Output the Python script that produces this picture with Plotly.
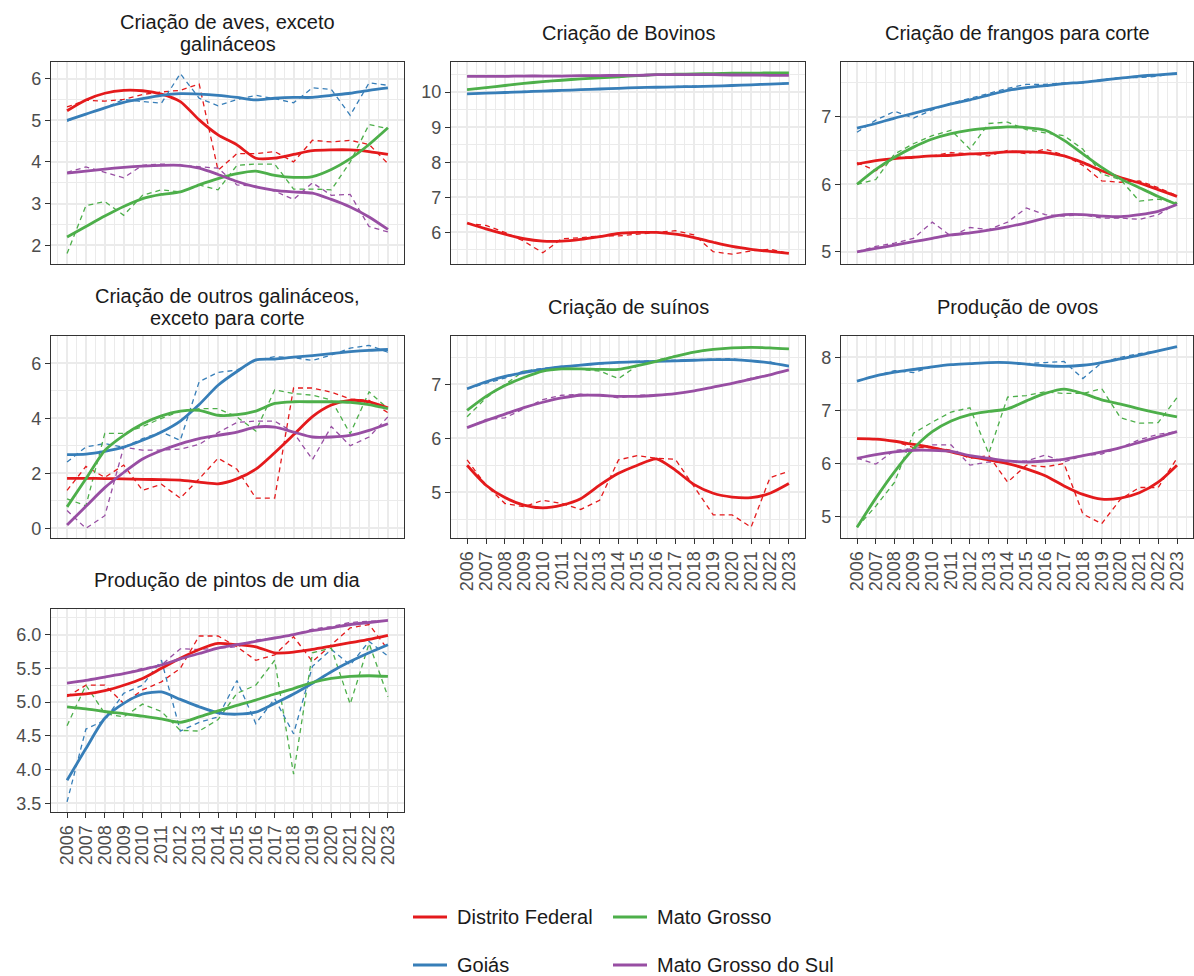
import plotly.graph_objects as go

# ---------------- data ----------------
years = [2006, 2007, 2008, 2009, 2010, 2011, 2012, 2013, 2014,
         2015, 2016, 2017, 2018, 2019, 2020, 2021, 2022, 2023]
year_labels = ["2006", "2007", "2008", "2009", "2010", "2011", "2012", "2013", "2014",
               "2015", "2016", "2017", "2018", "2019", "2020", "2021", "2022", "2023"]

state_names = ["Distrito Federal", "Goiás", "Mato Grosso", "Mato Grosso do Sul"]
state_colors = ["#E41A1C", "#377EB8", "#4DAF4A", "#984EA3"]

panel_titles = [
    ["Criação de aves, exceto", "galináceos"],
    ["Criação de Bovinos"],
    ["Criação de frangos para corte"],
    ["Criação de outros galináceos,", "exceto para corte"],
    ["Criação de suínos"],
    ["Produção de ovos"],
    ["Produção de pintos de um dia"],
]

# Panel 1: Criação de aves, exceto galináceos
aves_df_obs = [5.32, 5.48, 5.46, 5.50, 5.62, 5.68, 5.72, 5.87, 3.80, 4.20, 4.20, 4.25, 4.00, 4.52, 4.48, 4.52, 4.42, 3.96]
aves_df_fit = [5.23, 5.49, 5.65, 5.72, 5.71, 5.63, 5.45, 5.01, 4.65, 4.41, 4.09, 4.09, 4.18, 4.27, 4.29, 4.29, 4.25, 4.18]
aves_go_obs = [4.98, 5.15, 5.30, 5.50, 5.45, 5.41, 6.12, 5.53, 5.35, 5.50, 5.60, 5.52, 5.42, 5.78, 5.74, 5.12, 5.90, 5.84]
aves_go_fit = [5.00, 5.15, 5.30, 5.43, 5.52, 5.60, 5.64, 5.63, 5.60, 5.55, 5.49, 5.53, 5.55, 5.55, 5.60, 5.65, 5.72, 5.78]
aves_mt_obs = [1.80, 2.95, 3.05, 2.72, 3.20, 3.33, 3.28, 3.45, 3.33, 3.92, 3.95, 3.95, 3.35, 3.35, 3.33, 4.00, 4.90, 4.80]
aves_mt_fit = [2.20, 2.45, 2.70, 2.93, 3.12, 3.22, 3.28, 3.45, 3.60, 3.72, 3.78, 3.68, 3.63, 3.65, 3.82, 4.08, 4.42, 4.82]
aves_ms_obs = [3.75, 3.88, 3.75, 3.62, 3.92, 3.95, 3.92, 3.88, 3.85, 3.45, 3.42, 3.30, 3.10, 3.50, 3.20, 3.22, 2.45, 2.32]
aves_ms_fit = [3.73, 3.78, 3.83, 3.87, 3.90, 3.92, 3.92, 3.85, 3.70, 3.53, 3.40, 3.32, 3.28, 3.25, 3.10, 2.92, 2.68, 2.38]

# Panel 2: Criação de Bovinos
bov_df_obs = [6.25, 6.20, 6.00, 5.75, 5.42, 5.82, 5.85, 5.90, 5.90, 5.95, 6.00, 6.05, 5.93, 5.45, 5.38, 5.47, 5.52, 5.40]
bov_df_fit = [6.27, 6.10, 5.95, 5.82, 5.75, 5.75, 5.80, 5.88, 5.97, 6.00, 6.00, 5.95, 5.85, 5.72, 5.60, 5.52, 5.46, 5.40]
bov_go_obs = [9.95, 9.98, 10.00, 10.02, 10.04, 10.06, 10.08, 10.10, 10.12, 10.14, 10.15, 10.16, 10.17, 10.18, 10.17, 10.20, 10.24, 10.25]
bov_go_fit = [9.95, 9.97, 9.99, 10.01, 10.03, 10.05, 10.07, 10.09, 10.11, 10.13, 10.14, 10.15, 10.16, 10.17, 10.19, 10.21, 10.23, 10.25]
bov_mt_obs = [10.07, 10.12, 10.18, 10.25, 10.30, 10.34, 10.38, 10.41, 10.44, 10.47, 10.50, 10.51, 10.52, 10.53, 10.54, 10.54, 10.55, 10.56]
bov_mt_fit = [10.07, 10.13, 10.19, 10.25, 10.30, 10.34, 10.38, 10.41, 10.44, 10.47, 10.50, 10.51, 10.52, 10.53, 10.54, 10.54, 10.55, 10.55]
bov_ms_obs = [10.45, 10.45, 10.45, 10.46, 10.46, 10.46, 10.47, 10.47, 10.48, 10.48, 10.50, 10.50, 10.50, 10.50, 10.49, 10.49, 10.48, 10.48]
bov_ms_fit = [10.45, 10.45, 10.45, 10.46, 10.46, 10.46, 10.47, 10.47, 10.48, 10.48, 10.50, 10.50, 10.50, 10.50, 10.49, 10.49, 10.48, 10.48]

# Panel 3: Criação de frangos para corte
fra_df_obs = [6.32, 6.20, 6.40, 6.40, 6.42, 6.47, 6.45, 6.42, 6.50, 6.45, 6.52, 6.43, 6.28, 6.05, 6.03, 6.05, 5.95, 5.83]
fra_df_fit = [6.30, 6.35, 6.38, 6.40, 6.42, 6.43, 6.45, 6.46, 6.48, 6.48, 6.47, 6.42, 6.32, 6.20, 6.10, 6.02, 5.92, 5.82]
fra_go_obs = [6.77, 6.95, 7.08, 6.98, 7.10, 7.20, 7.27, 7.35, 7.42, 7.48, 7.48, 7.50, 7.50, 7.55, 7.58, 7.58, 7.60, 7.65]
fra_go_fit = [6.83, 6.90, 6.98, 7.05, 7.12, 7.19, 7.25, 7.32, 7.39, 7.43, 7.46, 7.49, 7.51, 7.54, 7.57, 7.60, 7.62, 7.64]
fra_mt_obs = [6.00, 6.07, 6.45, 6.60, 6.72, 6.80, 6.52, 6.90, 6.92, 6.81, 6.76, 6.72, 6.52, 6.15, 6.07, 5.75, 5.78, 5.73]
fra_mt_fit = [6.00, 6.22, 6.40, 6.55, 6.67, 6.75, 6.80, 6.83, 6.85, 6.84, 6.80, 6.65, 6.45, 6.25, 6.08, 5.95, 5.82, 5.70]
fra_ms_obs = [5.00, 5.08, 5.13, 5.20, 5.44, 5.23, 5.36, 5.33, 5.44, 5.65, 5.55, 5.53, 5.55, 5.50, 5.50, 5.48, 5.55, 5.72]
fra_ms_fit = [5.00, 5.05, 5.10, 5.15, 5.20, 5.25, 5.28, 5.32, 5.37, 5.43, 5.50, 5.55, 5.55, 5.53, 5.52, 5.55, 5.60, 5.70]

# Panel 4: Criação de outros galináceos, exceto para corte
gal_df_obs = [1.38, 2.25, 1.85, 2.30, 1.38, 1.60, 1.10, 1.80, 2.55, 2.15, 1.10, 1.10, 5.10, 5.10, 4.95, 4.70, 4.65, 4.20]
gal_df_fit = [1.82, 1.82, 1.81, 1.80, 1.78, 1.77, 1.75, 1.68, 1.62, 1.80, 2.15, 2.75, 3.40, 4.06, 4.48, 4.65, 4.60, 4.38]
gal_go_obs = [2.41, 2.96, 3.08, 2.95, 3.26, 3.50, 3.20, 5.33, 5.67, 5.75, 6.10, 6.24, 6.20, 6.10, 6.30, 6.55, 6.65, 6.40]
gal_go_fit = [2.68, 2.70, 2.80, 2.95, 3.20, 3.50, 3.90, 4.50, 5.20, 5.70, 6.12, 6.15, 6.22, 6.28, 6.35, 6.42, 6.47, 6.50]
gal_mt_obs = [1.07, 0.82, 3.45, 3.45, 3.70, 4.00, 4.25, 4.35, 4.35, 4.05, 3.54, 5.03, 4.90, 4.84, 4.66, 3.44, 4.96, 4.35]
gal_mt_fit = [0.78, 1.80, 2.83, 3.38, 3.80, 4.09, 4.26, 4.29, 4.11, 4.13, 4.26, 4.54, 4.60, 4.60, 4.60, 4.58, 4.50, 4.35]
gal_ms_obs = [0.65, 0.00, 0.46, 2.95, 2.84, 2.84, 2.88, 3.05, 3.48, 3.85, 3.90, 3.90, 3.48, 2.50, 3.70, 3.00, 3.32, 4.05]
gal_ms_fit = [0.12, 0.80, 1.48, 2.03, 2.52, 2.83, 3.07, 3.26, 3.38, 3.50, 3.68, 3.68, 3.50, 3.32, 3.32, 3.38, 3.56, 3.80]

# Panel 5: Criação de suínos
sui_df_obs = [5.60, 5.13, 4.79, 4.73, 4.85, 4.79, 4.68, 4.85, 5.60, 5.68, 5.63, 5.61, 5.10, 4.58, 4.58, 4.35, 5.27, 5.39]
sui_df_fit = [5.50, 5.13, 4.90, 4.76, 4.71, 4.76, 4.88, 5.13, 5.35, 5.50, 5.62, 5.41, 5.14, 4.98, 4.91, 4.90, 4.98, 5.16]
sui_go_obs = [6.92, 7.02, 7.12, 7.25, 7.30, 7.33, 7.36, 7.39, 7.41, 7.43, 7.44, 7.45, 7.45, 7.46, 7.48, 7.43, 7.42, 7.33]
sui_go_fit = [6.92, 7.05, 7.15, 7.22, 7.28, 7.33, 7.36, 7.39, 7.41, 7.42, 7.43, 7.44, 7.45, 7.46, 7.46, 7.44, 7.40, 7.34]
sui_mt_obs = [6.40, 6.75, 7.00, 7.25, 7.28, 7.30, 7.28, 7.25, 7.11, 7.35, 7.45, 7.52, 7.60, 7.65, 7.68, 7.69, 7.68, 7.66]
sui_mt_fit = [6.52, 6.78, 6.98, 7.13, 7.25, 7.29, 7.29, 7.28, 7.28, 7.35, 7.43, 7.52, 7.60, 7.65, 7.68, 7.69, 7.68, 7.66]
sui_ms_obs = [6.20, 6.35, 6.38, 6.55, 6.72, 6.80, 6.82, 6.80, 6.75, 6.80, 6.80, 6.83, 6.88, 6.95, 7.02, 7.12, 7.18, 7.27]
sui_ms_fit = [6.20, 6.33, 6.45, 6.57, 6.67, 6.75, 6.80, 6.80, 6.78, 6.78, 6.80, 6.83, 6.88, 6.95, 7.02, 7.10, 7.18, 7.27]

# Panel 6: Produção de ovos
ovo_df_obs = [6.47, 6.47, 6.42, 6.30, 6.30, 6.25, 6.10, 6.15, 5.65, 5.97, 5.94, 6.00, 5.05, 4.87, 5.33, 5.55, 5.55, 6.10]
ovo_df_fit = [6.47, 6.46, 6.42, 6.36, 6.30, 6.22, 6.13, 6.07, 6.00, 5.90, 5.77, 5.58, 5.42, 5.33, 5.35, 5.45, 5.65, 5.97]
ovo_go_obs = [7.55, 7.65, 7.75, 7.71, 7.82, 7.86, 7.88, 7.90, 7.90, 7.88, 7.90, 7.92, 7.60, 7.90, 8.00, 8.07, 8.12, 8.20]
ovo_go_fit = [7.55, 7.65, 7.72, 7.77, 7.82, 7.86, 7.88, 7.90, 7.90, 7.87, 7.84, 7.83, 7.85, 7.90, 7.97, 8.04, 8.12, 8.20]
ovo_mt_obs = [4.80, 5.20, 5.65, 6.57, 6.78, 6.97, 7.05, 6.19, 7.25, 7.28, 7.35, 7.32, 7.32, 7.41, 6.86, 6.76, 6.77, 7.24]
ovo_mt_fit = [4.80, 5.35, 5.85, 6.28, 6.60, 6.80, 6.92, 6.98, 7.03, 7.18, 7.32, 7.40, 7.32, 7.20, 7.12, 7.03, 6.95, 6.88]
ovo_ms_obs = [6.10, 5.99, 6.25, 6.28, 6.35, 6.35, 5.97, 6.03, 6.03, 6.05, 6.16, 6.03, 6.15, 6.18, 6.30, 6.45, 6.55, 6.60]
ovo_ms_fit = [6.10, 6.17, 6.22, 6.25, 6.25, 6.23, 6.15, 6.10, 6.05, 6.03, 6.05, 6.08, 6.15, 6.22, 6.30, 6.40, 6.50, 6.60]

# Panel 7: Produção de pintos de um dia
pin_df_obs = [5.08, 5.25, 5.25, 4.98, 5.18, 5.30, 5.50, 5.98, 5.98, 5.82, 5.62, 5.70, 5.97, 5.60, 5.85, 6.10, 6.15, 5.78]
pin_df_fit = [5.10, 5.12, 5.17, 5.25, 5.35, 5.50, 5.65, 5.78, 5.87, 5.85, 5.82, 5.73, 5.74, 5.78, 5.83, 5.88, 5.93, 5.99]
pin_go_obs = [3.52, 4.60, 4.73, 5.13, 5.25, 5.62, 4.57, 4.70, 4.78, 5.32, 4.68, 5.05, 4.53, 5.53, 5.78, 5.55, 5.90, 5.68]
pin_go_fit = [3.84, 4.31, 4.76, 4.98, 5.12, 5.15, 5.04, 4.93, 4.84, 4.82, 4.85, 4.98, 5.12, 5.28, 5.45, 5.60, 5.73, 5.85]
pin_mt_obs = [4.65, 5.25, 4.83, 4.78, 4.97, 4.86, 4.58, 4.57, 4.74, 5.13, 5.25, 5.62, 3.93, 5.73, 5.80, 4.97, 5.87, 5.08]
pin_mt_fit = [4.93, 4.90, 4.86, 4.83, 4.79, 4.75, 4.70, 4.78, 4.87, 4.95, 5.03, 5.12, 5.20, 5.29, 5.35, 5.38, 5.39, 5.38]
pin_ms_obs = [5.28, 5.32, 5.37, 5.42, 5.50, 5.55, 5.79, 5.78, 5.80, 5.82, 5.92, 5.95, 6.00, 6.08, 6.12, 6.18, 6.20, 6.20]
pin_ms_fit = [5.28, 5.32, 5.37, 5.42, 5.48, 5.55, 5.64, 5.72, 5.80, 5.85, 5.90, 5.95, 6.00, 6.06, 6.10, 6.15, 6.18, 6.21]

panel_obs = [
    [aves_df_obs, aves_go_obs, aves_mt_obs, aves_ms_obs],
    [bov_df_obs, bov_go_obs, bov_mt_obs, bov_ms_obs],
    [fra_df_obs, fra_go_obs, fra_mt_obs, fra_ms_obs],
    [gal_df_obs, gal_go_obs, gal_mt_obs, gal_ms_obs],
    [sui_df_obs, sui_go_obs, sui_mt_obs, sui_ms_obs],
    [ovo_df_obs, ovo_go_obs, ovo_mt_obs, ovo_ms_obs],
    [pin_df_obs, pin_go_obs, pin_mt_obs, pin_ms_obs],
]
panel_fit = [
    [aves_df_fit, aves_go_fit, aves_mt_fit, aves_ms_fit],
    [bov_df_fit, bov_go_fit, bov_mt_fit, bov_ms_fit],
    [fra_df_fit, fra_go_fit, fra_mt_fit, fra_ms_fit],
    [gal_df_fit, gal_go_fit, gal_mt_fit, gal_ms_fit],
    [sui_df_fit, sui_go_fit, sui_mt_fit, sui_ms_fit],
    [ovo_df_fit, ovo_go_fit, ovo_mt_fit, ovo_ms_fit],
    [pin_df_fit, pin_go_fit, pin_mt_fit, pin_ms_fit],
]

# ---------------- layout geometry ----------------
W, H = 1194, 976
col_px = [(51, 404), (451, 805), (841, 1193)]
row_px = [(62, 264), (336, 538), (609, 812)]
panel_pos = [(0, 0), (0, 1), (0, 2), (1, 0), (1, 1), (1, 2), (2, 0)]
panel_yrange = [[1.55, 6.40], [5.10, 10.86], [4.82, 7.81], [-0.35, 6.99],
                [4.15, 7.90], [4.60, 8.40], [3.37, 6.38]]
panel_ydtick = [1, 1, 1, 2, 1, 1, 0.5]
panel_showx = [False, False, False, False, True, True, True]

# legend key placement (pixels): column x of key start, row y centre
legend_cols = [413, 613]
legend_rows = [917, 965]
legend_slot = [(0, 0), (1, 0), (0, 1), (1, 1)]  # (row, col) for DF, GO, MT, MS

FONT = "Liberation Sans, Arial, Helvetica, sans-serif"
GRID = "#EBEBEB"
BORDER = "#333333"

fig = go.Figure()
layout = dict(
    width=W, height=H,
    margin=dict(l=0, r=0, t=0, b=0, autoexpand=False),
    paper_bgcolor="white", plot_bgcolor="white",
    font=dict(family=FONT, color="#1A1A1A"),
    showlegend=False,
    annotations=[],
    shapes=[],
)

for i in range(7):
    n = i + 1
    r, c = panel_pos[i]
    x0, x1 = col_px[c]
    y0, y1 = row_px[r]
    xname = "xaxis" if n == 1 else f"xaxis{n}"
    yname = "yaxis" if n == 1 else f"yaxis{n}"
    xref = "x" if n == 1 else f"x{n}"
    yref = "y" if n == 1 else f"y{n}"
    dt = panel_ydtick[i]
    layout[xname] = dict(
        domain=[x0 / W, x1 / W], anchor=yref, range=[2005.15, 2023.85],
        tickmode="array", tickvals=years, ticktext=year_labels,
        showticklabels=panel_showx[i], ticks="outside" if panel_showx[i] else "",
        ticklen=5, tickwidth=1.2, tickcolor=BORDER, tickangle=-90,
        tickfont=dict(size=18, color="#4D4D4D", family=FONT),
        showgrid=True, gridcolor=GRID, gridwidth=1.5,
        minor=dict(dtick=0.5, tick0=2005.5, showgrid=True, gridcolor=GRID, gridwidth=0.8),
        showline=True, mirror=True, linecolor=BORDER, linewidth=1.2,
        zeroline=False, fixedrange=True, automargin=False,
    )
    layout[yname] = dict(
        domain=[1 - y1 / H, 1 - y0 / H], anchor=xref, range=panel_yrange[i],
        tick0=0, dtick=dt, tickformat=".1f" if dt < 1 else "d",
        ticks="outside", ticklen=5, tickwidth=1.2, tickcolor=BORDER,
        tickfont=dict(size=18, color="#4D4D4D", family=FONT),
        showgrid=True, gridcolor=GRID, gridwidth=1.5,
        minor=dict(dtick=dt / 2, tick0=0, showgrid=True, gridcolor=GRID, gridwidth=0.8),
        showline=True, mirror=True, linecolor=BORDER, linewidth=1.2,
        zeroline=False, fixedrange=True, automargin=False,
    )
    # facet title(s)
    xc = (x0 + x1) / 2 / W
    lines = panel_titles[i]
    offs = [29] if len(lines) == 1 else [40, 18]
    for txt, off in zip(lines, offs):
        layout["annotations"].append(dict(
            text=txt, x=xc, y=1 - (y0 - off) / H, xref="paper", yref="paper",
            xanchor="center", yanchor="middle", showarrow=False,
            font=dict(size=20, color="#1A1A1A", family=FONT),
        ))
    # observed (dashed) lines
    for k in range(4):
        fig.add_trace(go.Scatter(
            x=years, y=panel_obs[i][k], mode="lines", xaxis=xref, yaxis=yref,
            line=dict(color=state_colors[k], width=1.3, dash="5px,4px"),
            name=state_names[k], showlegend=False, hoverinfo="skip",
        ))
    # smoothed (solid) lines
    for k in range(4):
        fig.add_trace(go.Scatter(
            x=years, y=panel_fit[i][k], mode="lines", xaxis=xref, yaxis=yref,
            line=dict(color=state_colors[k], width=2.8, shape="spline", smoothing=0.7),
            name=state_names[k], showlegend=False,
        ))

# legend (keys drawn as short lines + text labels)
for k in range(4):
    rr, cc = legend_slot[k]
    lx = legend_cols[cc]
    ly = legend_rows[rr]
    layout["shapes"].append(dict(
        type="line", xref="paper", yref="paper",
        x0=lx / W, x1=(lx + 34) / W, y0=1 - ly / H, y1=1 - ly / H,
        line=dict(color=state_colors[k], width=2.8),
    ))
    layout["annotations"].append(dict(
        text=state_names[k], x=(lx + 42) / W, y=1 - ly / H,
        xref="paper", yref="paper", xanchor="left", yanchor="middle",
        showarrow=False, font=dict(size=20, color="#1A1A1A", family=FONT),
    ))

fig.update_layout(**layout)
fig.write_html("out.html")
